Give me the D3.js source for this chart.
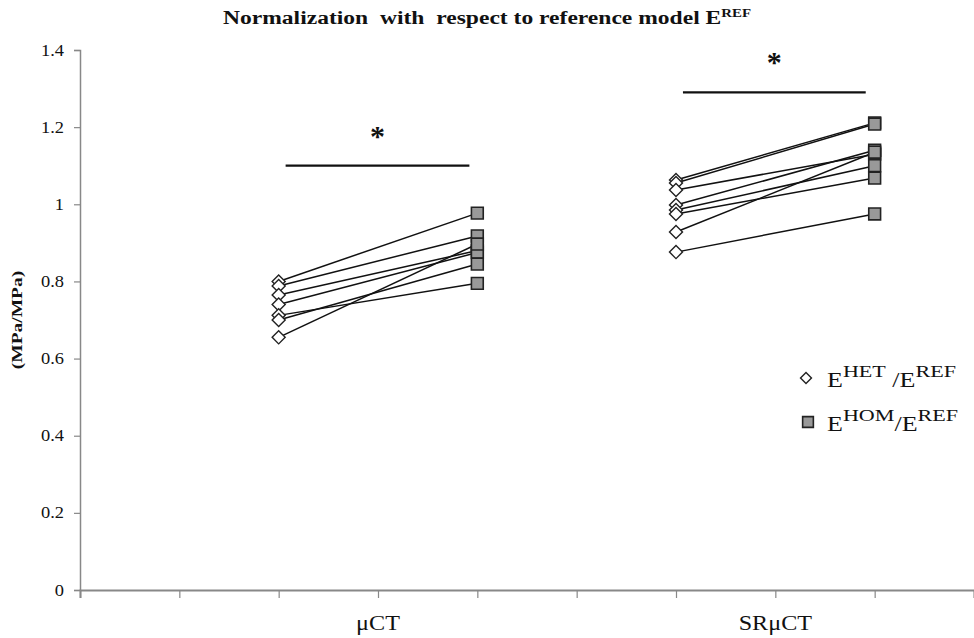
<!DOCTYPE html>
<html>
<head>
<meta charset="utf-8">
<script src="https://cdn.jsdelivr.net/npm/d3@7"></script>
<style>
  body { margin: 0; background: #fff; }
  svg text { font-family: "Liberation Serif", "Times New Roman", serif; fill: #111; }
</style>
</head>
<body>
<svg id="chart" width="974" height="638"></svg>
<script>
// group labels on the category axis
var groups = ['μCT', 'SRμCT'];
var groupPos = [3, 7];          // slot of the label on the 0..9 axis
var hetPos = [2, 6];            // slot of E_HET points
var homPos = [4, 8];            // slot of E_HOM points

// paired values, one entry per specimen
var hetMicroCT = [0.800, 0.788, 0.765, 0.740, 0.712, 0.700, 0.655];
var homMicroCT = [0.977, 0.918, 0.880, 0.875, 0.795, 0.845, 0.897];
var hetSRmicroCT = [1.063, 1.055, 1.037, 0.998, 0.985, 0.975, 0.928, 0.876];
var homSRmicroCT = [1.211, 1.208, 1.130, 1.140, 1.100, 1.068, 1.135, 0.975];

var yTicks = [0, 0.2, 0.4, 0.6, 0.8, 1, 1.2, 1.4];
// significance bars: [from slot, to slot, y value]
var sigBars = [[2.07, 3.92, 1.10], [6.07, 7.91, 1.29]];

var svg = d3.select('#chart');
var mLeft = 80, mRight = 974, mTop = 50, mBottom = 590;

var x = d3.scaleLinear().domain([0, 9]).range([mLeft, mRight]);
var y = d3.scaleLinear().domain([0, 1.4]).range([mBottom, mTop]);

// text drawn a bit wider than the font, like the source picture
function wideText(parent, px, py, sx, anchor) {
    return parent.append('text')
        .attr('transform', 'translate(' + px + ',' + py + ') scale(' + sx + ',1)')
        .attr('text-anchor', anchor || 'start')
        .attr('xml:space', 'preserve');
}

// title
var title = wideText(svg, 487, 24, 1.24, 'middle')
    .style('font-weight', 'bold').style('font-size', '19px');
title.append('tspan').text('Normalization  with  respect to reference model E');
title.append('tspan').attr('dy', -7).style('font-size', '12px').text('REF');

// y axis
var yAxis = svg.append('g')
    .attr('transform', 'translate(' + mLeft + ',0)')
    .call(d3.axisLeft(y).tickValues(yTicks).tickSize(6).tickPadding(12)
        .tickFormat(function (d) { return d3.format('~g')(d); }));
yAxis.select('.domain').attr('stroke', '#888').attr('stroke-width', 1.5);
yAxis.selectAll('.tick line').attr('stroke', '#888').attr('stroke-width', 1.2);
yAxis.selectAll('.tick text')
    .style('font-family', '"Liberation Serif", serif')
    .style('font-size', '16px').attr('fill', '#111')
    .attr('transform', 'scale(1.15,1)')
    .attr('x', -16 / 1.15);

// x axis
var xAxis = svg.append('g')
    .attr('transform', 'translate(0,' + mBottom + ')')
    .call(d3.axisBottom(x).tickValues(d3.range(0, 10)).tickSize(8).tickFormat(''));
xAxis.select('.domain').attr('stroke', '#888').attr('stroke-width', 2);
xAxis.selectAll('.tick line').attr('stroke', '#888').attr('stroke-width', 1.2);

groups.forEach(function (d, i) {
    wideText(svg, x(groupPos[i]), 630, 1.15, 'middle')
        .style('font-size', '21px')
        .text(d);
});

// y axis title
svg.append('text')
    .attr('transform', 'translate(22,' + y(0.7) + ') rotate(-90) scale(1.3,1)')
    .attr('text-anchor', 'middle')
    .style('font-weight', 'bold').style('font-size', '15px')
    .text('(MPa/MPa)');

// paired lines and markers
var sets = [
    { het: hetMicroCT, hom: homMicroCT, g: 0 },
    { het: hetSRmicroCT, hom: homSRmicroCT, g: 1 }
];
var diamond = d3.symbol().type(d3.symbolSquare).size(85);
var square = d3.symbol().type(d3.symbolSquare).size(140);

sets.forEach(function (s) {
    var g = svg.append('g');
    s.het.forEach(function (v, i) {
        g.append('line')
            .attr('x1', x(hetPos[s.g])).attr('y1', y(v))
            .attr('x2', x(homPos[s.g])).attr('y2', y(s.hom[i]))
            .attr('stroke', '#111').attr('stroke-width', 1.5);
    });
    g.selectAll('.het').data(s.het).enter().append('path')
        .attr('d', diamond)
        .attr('transform', function (d) { return 'translate(' + x(hetPos[s.g]) + ',' + y(d) + ') rotate(45)'; })
        .attr('fill', '#fff').attr('stroke', '#222').attr('stroke-width', 1.4);
    g.selectAll('.hom').data(s.hom).enter().append('path')
        .attr('d', square)
        .attr('transform', function (d) { return 'translate(' + x(homPos[s.g]) + ',' + y(d) + ')'; })
        .attr('fill', '#999').attr('stroke', '#222').attr('stroke-width', 1.6);
});

// significance bars
sigBars.forEach(function (b) {
    svg.append('line')
        .attr('x1', x(b[0])).attr('x2', x(b[1]))
        .attr('y1', y(b[2])).attr('y2', y(b[2]))
        .attr('stroke', '#111').attr('stroke-width', 2.2);
    svg.append('text')
        .attr('x', (x(b[0]) + x(b[1])) / 2)
        .attr('y', y(b[2]) - 20)
        .attr('text-anchor', 'middle')
        .style('font-weight', 'bold').style('font-size', '30px')
        .text('*');
});

// legend
var legend = svg.append('g');
var rows = [['HET', ' /E'], ['HOM', '/E']];
rows.forEach(function (r, i) {
    var ly = 378 + i * 44;
    if (i === 0) {
        legend.append('path').attr('d', d3.symbol().type(d3.symbolSquare).size(60))
            .attr('transform', 'translate(806,' + ly + ') rotate(45)')
            .attr('fill', '#fff').attr('stroke', '#222').attr('stroke-width', 1.4);
    } else {
        legend.append('path').attr('d', d3.symbol().type(d3.symbolSquare).size(115))
            .attr('transform', 'translate(808,' + ly + ')')
            .attr('fill', '#999').attr('stroke', '#222').attr('stroke-width', 1.6);
    }
    var t = wideText(legend, 827, ly + 9, 1.3, 'start')
        .style('font-size', '20px');
    t.append('tspan').text('E');
    t.append('tspan').attr('dy', -10).style('font-size', '17px').text(r[0]);
    t.append('tspan').attr('dy', 10).text(r[1]);
    t.append('tspan').attr('dy', -10).style('font-size', '17px').text('REF');
});
</script>
</body>
</html>
